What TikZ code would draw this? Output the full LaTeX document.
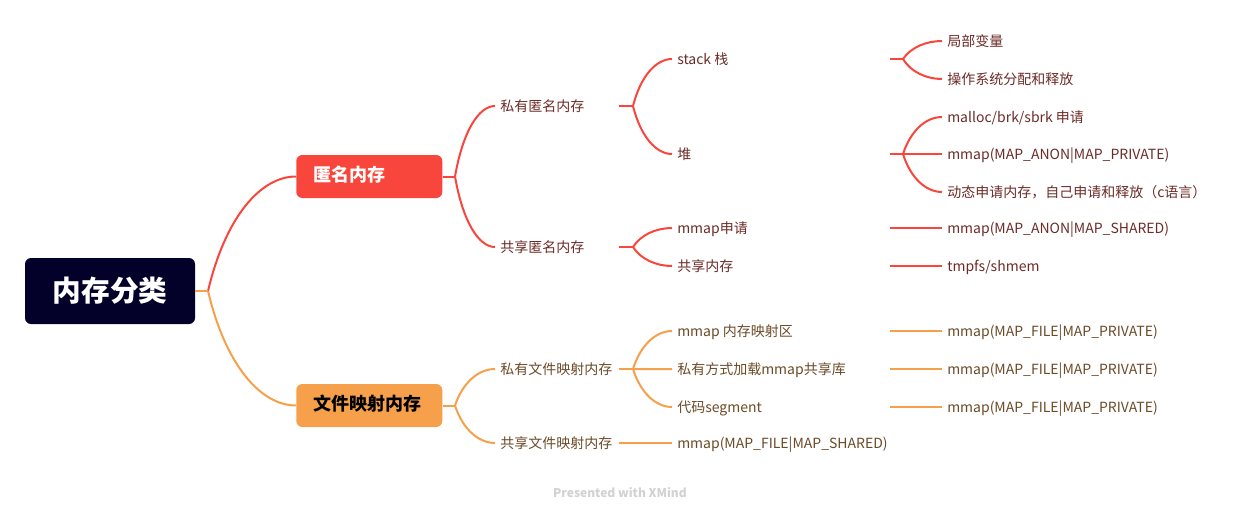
\documentclass[tikz,border=0pt]{standalone}
\usepackage{fontspec}
\setmainfont{Noto Sans CJK SC}
\usetikzlibrary{calc}
\definecolor{rootc}{HTML}{03012A}
\definecolor{redc}{HTML}{F8463C}
\definecolor{orac}{HTML}{F6A04B}
\definecolor{redt}{HTML}{6B2B27}
\definecolor{orat}{HTML}{6B4A27}
\definecolor{wmc}{HTML}{D2D2D2}
\newcommand\bcurve[3]{%
  \path ($(#2)!0.2!(#3)$) coordinate (cA) ($(#2)!0.65!(#3)$) coordinate (cB) ($(#2)!0.6!(#3)$) coordinate (cC);
  \draw[#1] (#2) .. controls (cA |- cB) and (cC |- #3) .. (#3);
}
\begin{document}
\begin{tikzpicture}[x=0.75pt,y=-0.75pt,
  rootbox/.style={fill=rootc, rounded corners=4.5pt, minimum width=127.5pt, minimum height=49.5pt, text=white, font=\fontsize{21.5}{21.5}\selectfont\bfseries, inner sep=0pt},
  mainbox/.style={rounded corners=4.5pt, minimum height=32.25pt, text width=84pt, inner xsep=12.75pt, align=left, anchor=west, font=\fontsize{13.5}{13.5}\selectfont\bfseries, text height=0.88em, text depth=0.12em},
  topic/.style={anchor=west, inner xsep=3.75pt, inner ysep=0pt, font=\fontsize{10.5}{10.5}\selectfont, text height=0.88em, text depth=0.12em},
  rt/.style={topic, text=redt},
  ot/.style={topic, text=orat},
  redl/.style={draw=redc, line width=1.5pt},
  oral/.style={draw=orac, line width=1.5pt}]
\useasboundingbox (0,0) rectangle (1240,518);

% nodes
\node[rootbox] (root) at (110,291) {内存分类};
\node[mainbox, fill=redc, text=white] (anon) at (296,176.5) {匿名内存};
\node[mainbox, fill=orac, text=black] (file) at (296,405.5) {文件映射内存};

\node[rt] (pa) at (495,106) {私有匿名内存};
\node[rt] (sa) at (495,247) {共享匿名内存};
\node[ot] (pf) at (495,369) {私有文件映射内存};
\node[ot] (sf) at (495,443) {共享文件映射内存};

\node[rt] (stack) at (672,59) {stack 栈};
\node[rt] (heap) at (672,154) {堆};
\node[rt] (mreq) at (672,228) {mmap申请};
\node[rt] (shm) at (672,266) {共享内存};
\node[ot] (mm) at (672,331) {mmap 内存映射区};
\node[ot] (lib) at (672,369) {私有方式加载mmap共享库};
\node[ot] (code) at (672,407) {代码segment};
\node[ot] (msh) at (672,443) {mmap(MAP\_FILE|MAP\_SHARED)};

\node[rt] (lv) at (942,41) {局部变量};
\node[rt] (os) at (942,79) {操作系统分配和释放};
\node[rt] (mal) at (942,117) {malloc/brk/sbrk 申请};
\node[rt] (mpriv) at (942,154) {mmap(MAP\_ANON|MAP\_PRIVATE)};
\node[rt] (dyn) at (942,192) {动态申请内存，自己申请和释放（c语言）};
\node[rt] (mas) at (942,228) {mmap(MAP\_ANON|MAP\_SHARED)};
\node[rt] (tmp) at (942,266) {tmpfs/shmem};
\node[ot] (f1) at (942,331) {mmap(MAP\_FILE|MAP\_PRIVATE)};
\node[ot] (f2) at (942,369) {mmap(MAP\_FILE|MAP\_PRIVATE)};
\node[ot] (f3) at (942,407) {mmap(MAP\_FILE|MAP\_PRIVATE)};

\node[font=\fontsize{9}{9}\selectfont\bfseries, text=wmc] (wm) at (620,493) {Presented with XMind};

% coordinates
\coordinate (rootf) at (208,291);
\coordinate (anonf) at (455,176.5);
\coordinate (filef) at (455,405.5);
\coordinate (pao) at (619,106);  \coordinate (paf) at (633,106);
\coordinate (sao) at (619,247);  \coordinate (saf) at (633,247);
\coordinate (pfo) at (619,369);  \coordinate (pff) at (633,369);
\coordinate (sfo) at (619,443);
\coordinate (stacko) at (890,59);  \coordinate (stackf) at (903,59);
\coordinate (heapo) at (890,154);  \coordinate (heapf) at (903,154);
\coordinate (mreqo) at (890,228);
\coordinate (shmo) at (890,266);
\coordinate (mmo) at (890,331);
\coordinate (libo) at (890,369);
\coordinate (codeo) at (890,407);

% connectors: root
\bcurve{redl}{rootf}{anon.west}
\bcurve{oral}{rootf}{file.west}
\draw[oral] (root.east) -- (rootf);

% red branch
\draw[redl] (anon.east) -- (anonf);
\bcurve{redl}{anonf}{pa.west}
\bcurve{redl}{anonf}{sa.west}
\draw[redl] (pao) -- (paf);
\bcurve{redl}{paf}{stack.west}
\bcurve{redl}{paf}{heap.west}
\draw[redl] (sao) -- (saf);
\bcurve{redl}{saf}{mreq.west}
\bcurve{redl}{saf}{shm.west}
\draw[redl] (stacko) -- (stackf);
\bcurve{redl}{stackf}{lv.west}
\bcurve{redl}{stackf}{os.west}
\draw[redl] (heapo) -- (heapf);
\bcurve{redl}{heapf}{mal.west}
\bcurve{redl}{heapf}{mpriv.west}
\bcurve{redl}{heapf}{dyn.west}
\draw[redl] (mreqo) -- (mas.west);
\draw[redl] (shmo) -- (tmp.west);

% orange branch
\draw[oral] (file.east) -- (filef);
\bcurve{oral}{filef}{pf.west}
\bcurve{oral}{filef}{sf.west}
\draw[oral] (pfo) -- (pff);
\bcurve{oral}{pff}{mm.west}
\bcurve{oral}{pff}{lib.west}
\bcurve{oral}{pff}{code.west}
\draw[oral] (sfo) -- (msh.west);
\draw[oral] (mmo) -- (f1.west);
\draw[oral] (libo) -- (f2.west);
\draw[oral] (codeo) -- (f3.west);
\end{tikzpicture}
\end{document}
